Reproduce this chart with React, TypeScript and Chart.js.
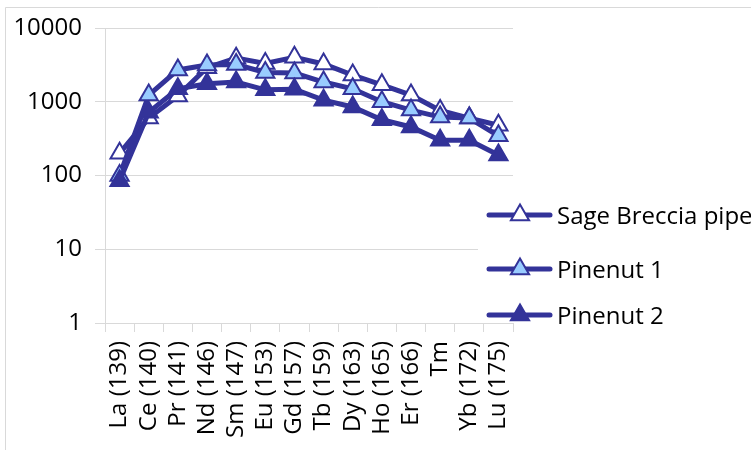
import React, { useEffect, useRef } from "react";
import { Chart, registerables } from "chart.js";

Chart.register(...registerables);

const categories = [
  "La (139)", "Ce (140)", "Pr (141)", "Nd (146)", "Sm (147)", "Eu (153)", "Gd (157)",
  "Tb (159)", "Dy (163)", "Ho (165)", "Er (166)", "Tm", "Yb (172)", "Lu (175)",
];
const sageBreccia = [200, 600, 1200, 2900, 3900, 3300, 4000, 3250, 2300, 1700, 1230, 760, 600, 480];
const pinenut1 = [100, 1230, 2700, 3150, 3200, 2500, 2450, 1850, 1500, 1000, 770, 620, 600, 345];
const pinenut2 = [85, 720, 1500, 1750, 1850, 1450, 1480, 1050, 850, 570, 455, 300, 300, 190];
const yTicks = [1, 10, 100, 1000, 10000];
const seriesNames = ["Sage Breccia pipe", "Pinenut 1", "Pinenut 2"];

const LINE = "#333399";
const LIGHT = "#99CCFF";
const GRID = "#d9d9d9";
const FONT = "'Open Sans', sans-serif";

const fills = ["#ffffff", LIGHT, LINE];

function drawTri(ctx: CanvasRenderingContext2D, x: number, y: number, r: number, fill: string) {
  ctx.beginPath();
  let rad = 0;
  ctx.moveTo(x + Math.sin(rad) * r, y - Math.cos(rad) * r);
  rad += (2 * Math.PI) / 3;
  ctx.lineTo(x + Math.sin(rad) * r, y - Math.cos(rad) * r);
  rad += (2 * Math.PI) / 3;
  ctx.lineTo(x + Math.sin(rad) * r, y - Math.cos(rad) * r);
  ctx.closePath();
  ctx.fillStyle = fill;
  ctx.fill();
  ctx.lineWidth = 2;
  ctx.strokeStyle = LINE;
  ctx.stroke();
}

const framePlugin = {
  id: "frame",
  beforeDraw(chart: any) {
    const ctx = chart.ctx;
    ctx.save();
    ctx.fillStyle = "#ffffff";
    ctx.fillRect(0, 0, chart.width, chart.height);
    ctx.strokeStyle = GRID;
    ctx.lineWidth = 1;
    ctx.beginPath();
    ctx.moveTo(5.5, chart.height);
    ctx.lineTo(5.5, 7.5);
    ctx.lineTo(chart.width, 7.5);
    ctx.stroke();
    ctx.restore();
  },
  afterDraw(chart: any) {
    const ctx = chart.ctx;
    ctx.save();
    ctx.fillStyle = "#ffffff";
    ctx.fillRect(478, 195, 273, 125);
    const ys = [215, 269, 315];
    seriesNames.forEach((name, i) => {
      const y = ys[i];
      ctx.strokeStyle = LINE;
      ctx.lineWidth = 5;
      ctx.lineCap = "round";
      ctx.beginPath();
      ctx.moveTo(489, y);
      ctx.lineTo(550, y);
      ctx.stroke();
      drawTri(ctx, 520, y, 10.5, fills[i]);
      ctx.fillStyle = "#000000";
      ctx.font = `24px ${FONT}`;
      ctx.textAlign = "left";
      ctx.textBaseline = "alphabetic";
      ctx.fillText(name, 557, y + 9);
    });
    ctx.restore();
  },
};

function makeDataset(label: string, data: number[], fill: string, order: number) {
  return {
    label,
    data,
    borderColor: LINE,
    borderWidth: 5,
    backgroundColor: fill,
    pointStyle: "triangle" as const,
    pointRadius: 10.5,
    pointBorderWidth: 2,
    pointBorderColor: LINE,
    pointBackgroundColor: fill,
    tension: 0,
    order,
  };
}

export default function App() {
  const ref = useRef<HTMLCanvasElement>(null);
  useEffect(() => {
    if (!ref.current) return;
    const chart = new Chart(ref.current, {
      type: "line",
      data: {
        labels: categories,
        datasets: [
          makeDataset(seriesNames[0], sageBreccia, "#ffffff", 3),
          makeDataset(seriesNames[1], pinenut1, LIGHT, 2),
          makeDataset(seriesNames[2], pinenut2, LINE, 1),
        ],
      },
      options: {
        responsive: false,
        animation: false,
        layout: { padding: { left: 0, top: 28, right: 238, bottom: 0 } },
        plugins: { legend: { display: false }, tooltip: { enabled: false } },
        scales: {
          x: {
            type: "category",
            offset: true,
            grid: { display: true, drawOnChartArea: false, drawTicks: true, tickLength: 9, offset: true, color: GRID },
            border: { display: true, color: GRID },
            ticks: {
              minRotation: 90,
              maxRotation: 90,
              autoSkip: false,
              padding: 9,
              color: "#000000",
              font: { family: FONT, size: 24 },
            },
            afterFit(scale: any) {
              scale.height = 127;
            },
          },
          y: {
            type: "logarithmic",
            min: 1,
            max: 10000,
            grid: { color: GRID, tickLength: 10, drawTicks: true },
            border: { display: true, color: GRID },
            ticks: {
              padding: 13,
              color: "#000000",
              font: { family: FONT, size: 24 },
              callback: (v: any) => String(v),
            },
            afterBuildTicks(scale: any) {
              scale.ticks = yTicks.map((v) => ({ value: v }));
            },
            afterFit(scale: any) {
              scale.width = 105;
            },
          },
        },
      },
      plugins: [framePlugin],
    });
    return () => chart.destroy();
  }, []);
  return (
    <div style={{ position: "fixed", left: 0, top: 0, width: 751, height: 450, background: "#fff" }}>
      <canvas ref={ref} width={751} height={450} style={{ width: 751, height: 450, display: "block" }} />
    </div>
  );
}
